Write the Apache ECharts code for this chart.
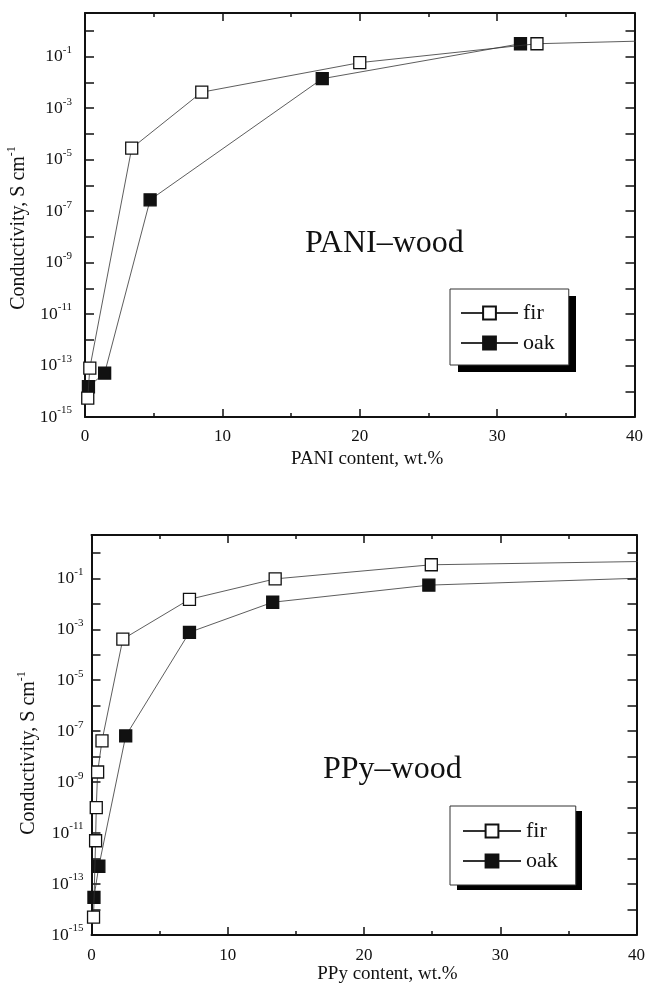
<!DOCTYPE html>
<html><head><meta charset="utf-8">
<script src="https://cdn.jsdelivr.net/npm/echarts@6/dist/echarts.min.js"></script>
<style>html,body{margin:0;padding:0;background:#fff}#c{width:646px;height:987px}</style>
</head><body><div id="c"></div>
<script>
// ---- data (conductivity in S/cm, content in wt.%) ----
const xTickValues = [0, 10, 20, 30, 40];
const yLabelExponents = [-15, -13, -11, -9, -7, -5, -3, -1];
const seriesNames = ['fir', 'oak'];
const panelTitles = ['PANI–wood', 'PPy–wood'];
const xAxisTitles = ['PANI content, wt.%', 'PPy content, wt.%'];
const yAxisTitle = 'Conductivity, S cm';

const paniFirX = [0.2, 0.35, 3.4, 8.5, 20.0, 32.9, 45];
const paniFirS = [5.4e-15, 7.9e-14, 2.8e-5, 4.2e-3, 5.9e-2, 0.32, 0.47];
const paniOakX = [0.25, 1.43, 4.74, 17.27, 31.7];
const paniOakS = [1.5e-14, 5.1e-14, 2.75e-7, 1.4e-2, 0.32];

const ppyFirX = [0.15, 0.3, 0.35, 0.45, 0.77, 2.3, 7.19, 13.48, 24.94, 45];
const ppyFirS = [5.0e-15, 5.0e-12, 1.0e-10, 2.5e-9, 4.2e-8, 4.1e-4, 1.5e-2, 9.5e-2, 0.34, 0.5];
const ppyOakX = [0.18, 0.54, 2.51, 7.19, 13.3, 24.76, 45];
const ppyOakS = [3.0e-14, 5.0e-13, 6.5e-8, 7.6e-4, 1.15e-2, 5.4e-2, 0.123];

// ---- helpers ----
const FONT = 'Liberation Serif';
const INK = '#111';
function pairs(xs, ss) { return xs.map((x, i) => [x, Math.log10(ss[i])]); }
const Y_MIN = -15, Y_MAX = 0.7;

function yLabelFmt(v) {
  const r = Math.round(v);
  if (Math.abs(v - r) > 1e-6) return '';
  if (yLabelExponents.indexOf(r) < 0) return '';
  return '{b|10}{s|' + r + '}';
}

function makeAxes(gi, cfg) {
  const xs = [
    { gridIndex: gi, type: 'value', position: 'bottom', min: xTickValues[0], max: xTickValues[xTickValues.length - 1], interval: 10,
      name: xAxisTitles[gi], nameLocation: 'middle', nameGap: cfg.xNameGap,
      nameTextStyle: { fontFamily: FONT, fontSize: 19, color: INK, padding: [0, 0, 0, cfg.xNameShift] },
      axisLine: { onZero: false, lineStyle: { color: INK, width: 2 } },
      axisTick: { inside: true, length: 8, lineStyle: { color: INK, width: 1.5 } },
      minorTick: { show: true, splitNumber: 2, length: 4, lineStyle: { color: INK, width: 1.5 } },
      splitLine: { show: false }, minorSplitLine: { show: false },
      axisLabel: { fontFamily: FONT, fontSize: 17, color: INK, margin: cfg.xLabelMargin } },
    { gridIndex: gi, type: 'value', position: 'top', min: 0, max: 40, interval: 10,
      axisLine: { onZero: false, lineStyle: { color: INK, width: 2 } },
      axisTick: { inside: true, length: 8, lineStyle: { color: INK, width: 1.5 } },
      minorTick: { show: true, splitNumber: 2, length: 4, lineStyle: { color: INK, width: 1.5 } },
      splitLine: { show: false }, axisLabel: { show: false } }
  ];
  const rich = {
    b: { fontFamily: FONT, fontSize: 17.5, color: INK, lineHeight: 24, verticalAlign: 'middle' },
    s: { fontFamily: FONT, fontSize: 11, color: INK, lineHeight: 11, verticalAlign: 'top' }
  };
  const ys = [
    { gridIndex: gi, type: 'value', position: 'left', min: Y_MIN, max: Y_MAX, interval: 1,
      name: '{t|' + yAxisTitle + '}{s|-1}', nameLocation: 'middle', nameGap: cfg.yNameGap,
      nameTextStyle: { padding: [0, cfg.yNameShift, 0, 0], rich: {
        t: { fontFamily: FONT, fontSize: 20, color: INK, lineHeight: 26, verticalAlign: 'middle' },
        s: { fontFamily: FONT, fontSize: 12, color: INK, lineHeight: 12, verticalAlign: 'top' } } },
      axisLine: { onZero: false, lineStyle: { color: INK, width: 2 } },
      axisTick: { inside: true, length: 9, lineStyle: { color: INK, width: 1.5 } },
      splitLine: { show: false },
      axisLabel: { formatter: yLabelFmt, rich: rich, margin: cfg.yLabelMargin } },
    { gridIndex: gi, type: 'value', position: 'right', min: Y_MIN, max: Y_MAX, interval: 1,
      axisLine: { onZero: false, lineStyle: { color: INK, width: 2 } },
      axisTick: { inside: true, length: 9, lineStyle: { color: INK, width: 1.5 } },
      splitLine: { show: false }, axisLabel: { show: false } },
    // minor ticks at 5x10^n (offset axis so integers fall at log10(5)+n)
    { gridIndex: gi, type: 'value', position: 'left', min: Y_MIN + 14.301, max: Y_MAX + 14.301, interval: 1,
      axisLine: { show: false, onZero: false },
      axisTick: { inside: true, length: 5, lineStyle: { color: INK, width: 1.5 } },
      splitLine: { show: false }, axisLabel: { show: false } },
    { gridIndex: gi, type: 'value', position: 'right', min: Y_MIN + 14.301, max: Y_MAX + 14.301, interval: 1,
      axisLine: { show: false, onZero: false },
      axisTick: { inside: true, length: 5, lineStyle: { color: INK, width: 1.5 } },
      splitLine: { show: false }, axisLabel: { show: false } }
  ];
  return { xs, ys };
}

const cfgs = [
  { xNameGap: 33, xNameShift: 15, xLabelMargin: 11, yNameGap: 50, yNameShift: 26, yLabelMargin: 13 },
  { xNameGap: 30, xNameShift: 47, xLabelMargin: 12, yNameGap: 50, yNameShift: 36, yLabelMargin: 8 }
];
const a0 = makeAxes(0, cfgs[0]);
const a1 = makeAxes(1, cfgs[1]);
const xAxes = a0.xs.concat(a1.xs);
const yAxes = a0.ys.concat(a1.ys);

function lineSeries(name, data, xi, yi, filled) {
  return {
    name: name, type: 'line', xAxisIndex: xi, yAxisIndex: yi, data: data,
    symbol: 'rect', symbolSize: 12, showSymbol: true, clip: true,
    lineStyle: { color: '#333', width: 0.8 },
    itemStyle: { color: filled ? INK : '#fff', borderColor: INK, borderWidth: 1.3 },
    emphasis: { disabled: true }, animation: false, z: filled ? 3 : 4
  };
}

const series = [
  lineSeries(seriesNames[1], pairs(paniOakX, paniOakS), 0, 0, true),
  lineSeries(seriesNames[0], pairs(paniFirX, paniFirS), 0, 0, false),
  lineSeries(seriesNames[1], pairs(ppyOakX, ppyOakS), 2, 4, true),
  lineSeries(seriesNames[0], pairs(ppyFirX, ppyFirS), 2, 4, false)
];

function legendCfg(left, top, pad, w) {
  return {
    data: seriesNames, orient: 'vertical', left: left, top: top, padding: pad,
    itemWidth: w, itemHeight: 16, itemGap: 8, selectedMode: false, z: 10,
    backgroundColor: '#fff', borderColor: '#333', borderWidth: 1,
    textStyle: { fontFamily: FONT, fontSize: 22, color: INK }
  };
}

const option = {
  backgroundColor: '#fff',
  animation: false,
  grid: [
    { left: 85, top: 13, width: 549.5, height: 404, outerBoundsMode: 'none', containLabel: false },
    { left: 91.5, top: 535, width: 545, height: 400, outerBoundsMode: 'none', containLabel: false }
  ],
  title: [
    { text: panelTitles[0], left: 305, top: 228, padding: 0, textStyle: { fontFamily: FONT, fontSize: 32, fontWeight: 'normal', color: INK } },
    { text: panelTitles[1], left: 323, top: 754, padding: 0, textStyle: { fontFamily: FONT, fontSize: 32, fontWeight: 'normal', color: INK } }
  ],
  legend: [
    legendCfg(450, 289, [13, 14, 11, 10], 57),
    legendCfg(450, 806, [14, 18, 13, 12], 58)
  ],
  // drop shadows behind the legend boxes
  graphic: [
    { type: 'rect', left: 458, top: 296, z: 1, shape: { width: 118, height: 76 }, style: { fill: '#000' } },
    { type: 'rect', left: 457, top: 811, z: 1, shape: { width: 125, height: 79 }, style: { fill: '#000' } }
  ],
  xAxis: xAxes,
  yAxis: yAxes,
  series: series
};

const chart = echarts.init(document.getElementById('c'), null, { renderer: 'canvas' });
chart.setOption(option);
</script>
</body></html>
